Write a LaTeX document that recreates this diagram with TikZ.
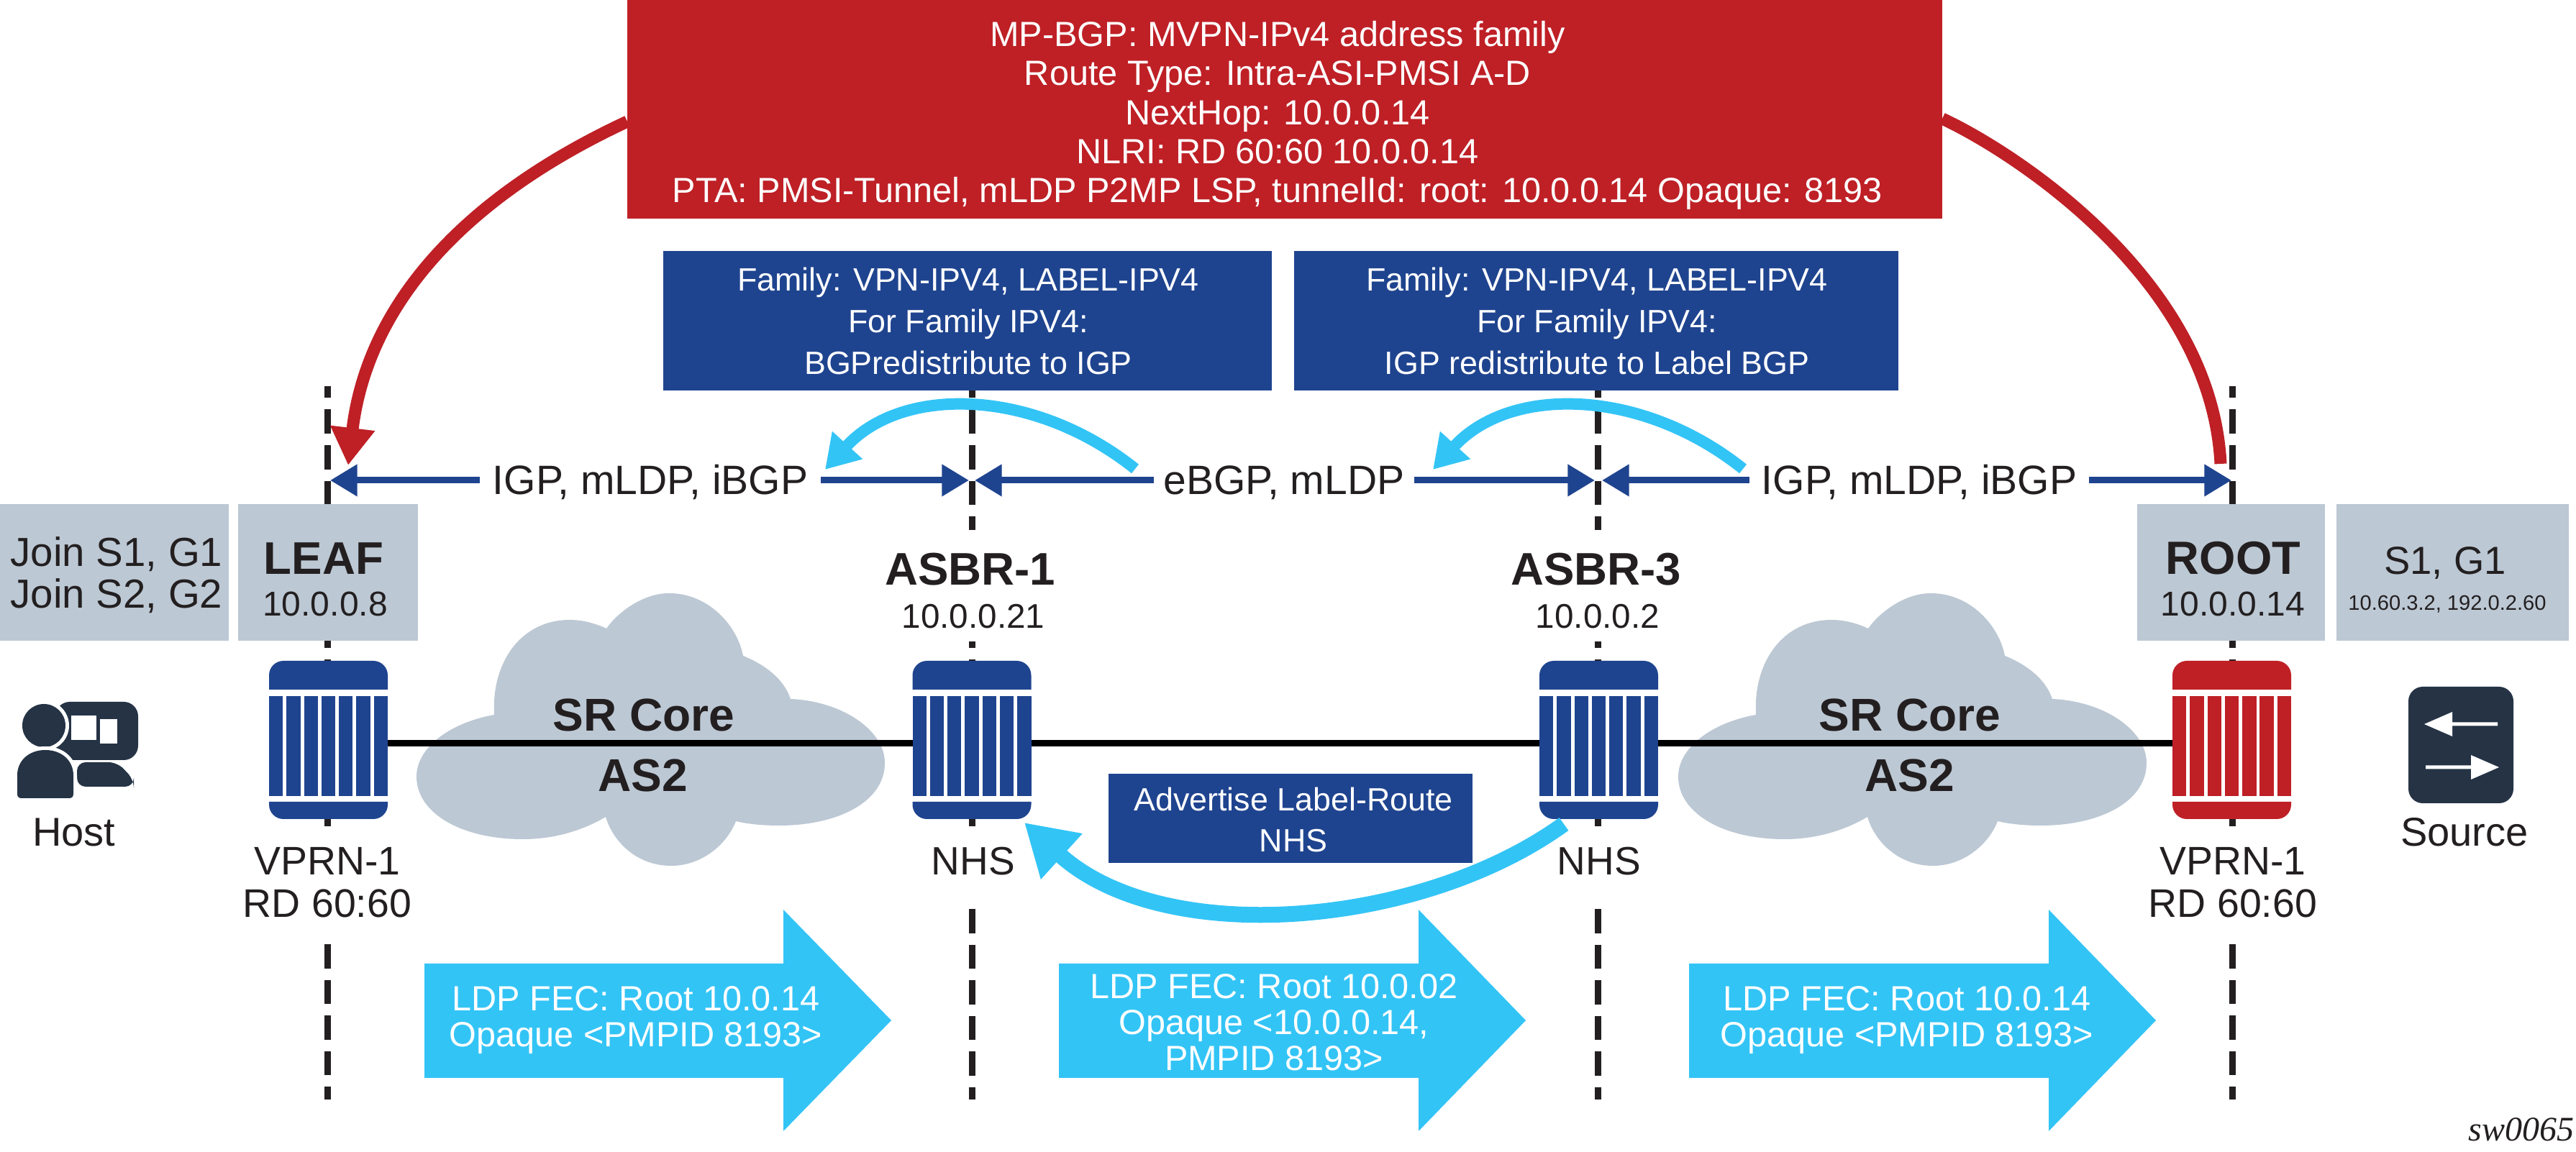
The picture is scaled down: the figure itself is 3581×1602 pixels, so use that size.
\documentclass[tikz,border=0pt]{standalone}
\usepackage{fontspec}
\setmainfont{Liberation Sans}
\newfontfamily\swfont{Liberation Serif}
\usetikzlibrary{arrows.meta}
\definecolor{nred}{HTML}{BE2026}
\definecolor{nblue}{HTML}{1F448F}
\definecolor{ncyan}{HTML}{33C4F6}
\definecolor{ngrey}{HTML}{BCC8D4}
\definecolor{ndark}{HTML}{253345}
\definecolor{ink}{HTML}{231F20}
\newcommand\fs[2]{\fontsize{#1}{#2}\selectfont}
\tikzset{
  x=0.25pt,y=-0.25pt,
  txt/.style={inner sep=0pt,outer sep=0pt,text=ink},
  wtxt/.style={inner sep=0pt,outer sep=0pt,text=white,align=center},
  basetxt/.style={txt,anchor=base},
  dropline/.style={draw=ink,line width=2.25pt,dash pattern=on 8.4pt off 4pt},
  link/.style={draw=black,line width=2.25pt},
  bluelink/.style={draw=nblue,line width=2.25pt,-{Triangle[length=9.4pt,width=10.6pt]}},
  cyanarc/.style={draw=ncyan,line width=4pt,-{Triangle[length=11.5pt,width=13.5pt]}},
  cyanarcb/.style={draw=ncyan,line width=5.5pt,-{Triangle[length=17.5pt,width=20.25pt]}},
  redarc/.style={draw=nred,line width=4.25pt},
  greybox/.style={fill=ngrey,inner sep=0pt,outer sep=0pt},
  filledbox/.style={inner sep=0pt,outer sep=0pt},
  rnode/.style={inner sep=0pt,outer sep=0pt,minimum width=41.25pt,minimum height=52.5pt},
}
\newcommand\dropEnd[1]{%
  \draw[dropline,dash phase=4.28pt] (#1,537) -- (#1,1149);
  \draw[dropline] (#1,1313) -- (#1,1529);}
\newcommand\dropMid[1]{%
  \draw[dropline,dash phase=4.28pt] (#1,537) -- (#1,737);
  \draw[dropline,dash phase=6.1pt] (#1,892) -- (#1,1149);
  \draw[dropline] (#1,1264) -- (#1,1529);}
\newcommand\cloudshape{%
  \fill[ngrey] (687,994) .. controls (683,920) and (725,862) .. (792,862)
   .. controls (812,862) and (830,868) .. (843,874)
   .. controls (860,850) and (895,825) .. (930,825)
   .. controls (985,825) and (1025,870) .. (1033,912)
   .. controls (1065,925) and (1090,945) .. (1099,972)
   .. controls (1170,975) and (1230,1015) .. (1230,1061)
   .. controls (1230,1115) and (1165,1148) .. (1083,1148)
   .. controls (1060,1148) and (1040,1146) .. (1023,1142)
   .. controls (1010,1175) and (975,1204) .. (933,1204)
   .. controls (885,1204) and (852,1170) .. (842,1136)
   .. controls (810,1155) and (770,1167) .. (727,1167)
   .. controls (640,1167) and (579,1130) .. (579,1080)
   .. controls (579,1040) and (625,1005) .. (687,994) -- cycle;}
\newcommand\routerbody[2]{%
  \begin{scope}[shift={(#1,1034)}]
    \fill[white] (-82.5,-115) rectangle (82.5,105);
    \fill[#2] (-82.5,-75) [rounded corners=5pt] -- (-82.5,-115) -- (82.5,-115) [sharp corners] -- (82.5,-75) -- cycle;
    \foreach \i in {0,...,6} \fill[#2] ({-82.5+\i*24.27},-66) rectangle ++(19.4,139);
    \fill[#2] (-82.5,81) -- (82.5,81) [rounded corners=5pt] -- (82.5,105) -- (-82.5,105) [sharp corners] -- cycle;
  \end{scope}}
\newcommand\bigarrow[3]{% left, neck, tip
  \fill[ncyan] (#1,1340) -- (#2,1340) -- (#2,1265) -- (#3,1419) -- (#2,1573) -- (#2,1499) -- (#1,1499) -- cycle;}
\newcommand\hostbody{(24,1104) -- (24,1078) .. controls (24,1058) and (40,1043) .. (63,1043) .. controls (86,1043) and (102,1058) .. (102,1078) -- (102,1104) .. controls (102,1108) and (100,1110) .. (96,1110) -- (30,1110) .. controls (26,1110) and (24,1108) .. (24,1104) -- cycle}
\begin{document}
\begin{tikzpicture}
\path[use as bounding box,fill=white] (0,0) rectangle (3581,1602);

% drop lines
\dropEnd{455}
\dropMid{1351}
\dropMid{2221}
\dropEnd{3103}

% boxes
\node[filledbox,fill=nred,minimum width=457pt,minimum height=76pt] (redbox) at (1786,152) {};
\node[filledbox,fill=nblue,minimum width=211.5pt,minimum height=48.5pt] (bbox1) at (1345,446) {};
\node[filledbox,fill=nblue,minimum width=210pt,minimum height=48.5pt] (bbox2) at (2219,446) {};
\node[filledbox,fill=nblue,minimum width=126.5pt,minimum height=31pt] (advbox) at (1794,1138) {};
\node[greybox,minimum width=79.5pt,minimum height=47.5pt] (joinbox) at (159,796) {};
\node[greybox,minimum width=62.5pt,minimum height=47.5pt] (leafbox) at (456,796) {};
\node[greybox,minimum width=65.25pt,minimum height=47.5pt] (rootbox) at (3101.5,796) {};
\node[greybox,minimum width=80.75pt,minimum height=47.5pt] (srcbox) at (3409.5,796) {};

% clouds
\cloudshape
\begin{scope}[xshift=438.5pt]\cloudshape\end{scope}

% routers and link
\node[rnode] (leaf) at (456.5,1034) {};
\node[rnode] (asbrA) at (1351,1034) {};
\node[rnode] (asbrC) at (2222.5,1034) {};
\node[rnode] (root) at (3102.5,1034) {};
\draw[link] (leaf) -- (asbrA) -- (asbrC) -- (root);
\routerbody{456.5}{nblue}
\routerbody{1351}{nblue}
\routerbody{2222.5}{nblue}
\routerbody{3102.5}{nred}

% big arrows
\bigarrow{590}{1089}{1239}
\bigarrow{1472}{1972}{2121}
\bigarrow{2348}{2848}{2997}

% texts in boxes
\node[wtxt,font=\fs{12.15}{13.55}] (redtxt) at (1776,160.5) {MP-BGP: MVPN-IPv4 address family\\Route Type: Intra-ASI-PMSI A-D\\NextHop: 10.0.0.14\\NLRI: RD 60:60 10.0.0.14\\PTA: PMSI-Tunnel, mLDP P2MP LSP, tunnelId: root: 10.0.0.14 Opaque: 8193};
\node[wtxt,font=\fs{11.2}{14.5}] (btxt1) at (1346,447) {Family: VPN-IPV4, LABEL-IPV4\\For Family IPV4:\\BGPredistribute to IGP};
\node[wtxt,font=\fs{11.2}{14.5}] (btxt2) at (2220,447) {Family: VPN-IPV4, LABEL-IPV4\\For Family IPV4:\\IGP redistribute to Label BGP};
\node[wtxt,font=\fs{11.2}{14.1}] (advtxt) at (1798,1140) {Advertise Label-Route\\NHS};
\node[wtxt,font=\fs{12.15}{12.5}] (fec1) at (884,1419) {LDP FEC: Root 10.0.14\\Opaque <PMPID 8193>};
\node[wtxt,font=\fs{12.15}{12.5}] (fec2) at (1771,1421.5) {LDP FEC: Root 10.0.02\\Opaque <10.0.0.14,\\PMPID 8193>};
\node[wtxt,font=\fs{12.15}{12.5}] (fec3) at (2651,1419) {LDP FEC: Root 10.0.14\\Opaque <PMPID 8193>};

% grey box labels
\node[txt,align=center,font=\fs{14.1}{14.5}] (join) at (162,799.5) {Join S1, G1\\Join S2, G2};
\node[basetxt,font=\bfseries\fs{15.9}{17}] (leafname) at (450,799) {LEAF};
\node[basetxt,font=\fs{12}{14}] (leafip) at (452,857) {10.0.0.8};
\node[basetxt,font=\bfseries\fs{16.2}{17}] (rootname) at (3104.5,799) {ROOT};
\node[basetxt,font=\fs{12}{14}] (rootip) at (3104,857) {10.0.0.14};
\node[basetxt,font=\fs{13.6}{14}] (srcname) at (3399,799) {S1, G1};
\node[basetxt,font=\fs{7.28}{9}] (srcip) at (3402,849) {10.60.3.2, 192.0.2.60};

% ASBR labels
\node[basetxt,font=\bfseries\fs{15.9}{17}] (asbrAname) at (1349,814) {ASBR-1};
\node[basetxt,font=\fs{11.9}{14}] (asbrAip) at (1353,874) {10.0.0.21};
\node[basetxt,font=\bfseries\fs{15.9}{17}] (asbrCname) at (2219,814) {ASBR-3};
\node[basetxt,font=\fs{11.9}{14}] (asbrCip) at (2221,874) {10.0.0.2};
\node[basetxt,font=\fs{13.75}{14}] (nhsA) at (1353,1217) {NHS};
\node[basetxt,font=\fs{13.75}{14}] (nhsC) at (2223,1217) {NHS};
\node[txt,align=center,font=\fs{13.85}{14.75}] (vprnL) at (455,1227) {VPRN-1\\RD 60:60};
\node[txt,align=center,font=\fs{13.85}{14.75}] (vprnR) at (3104,1227) {VPRN-1\\RD 60:60};

% cloud labels
\node[basetxt,font=\bfseries\fs{16}{17}] (sr1) at (895,1017) {SR Core};
\node[basetxt,font=\bfseries\fs{16}{17}] (as1) at (894,1101) {AS2};
\node[basetxt,font=\bfseries\fs{16}{17}] (sr2) at (2655,1017) {SR Core};
\node[basetxt,font=\bfseries\fs{16}{17}] (as2) at (2655,1101) {AS2};

% host icon
\fill[ndark,rounded corners=5pt] (77,976) rectangle (192,1057);
\fill[white] (99,995) rectangle (134,1029);
\fill[white] (139,1000) rectangle (163,1034);
\fill[white] (61,1009) circle[radius=35];
\fill[ndark] (61,1009) circle[radius=30];
\fill[ndark,rounded corners=3pt] (107,1094) -- (107,1060) -- (163,1060) -- (186,1084) -- (186,1094) -- cycle;
\draw[white,line width=2.5pt] \hostbody;
\fill[ndark] \hostbody;
\node[basetxt,font=\fs{14}{15}] (hostlbl) at (103,1177) {Host};

% source icon
\fill[ndark,rounded corners=5pt] (3348,955) rectangle (3494,1117);
\fill[white] (3370,1007) -- (3409,990) -- (3409,1004.5) -- (3472,1004.5) -- (3472,1009.5) -- (3409,1009.5) -- (3409,1024) -- cycle;
\fill[white] (3474,1067) -- (3435,1050) -- (3435,1064.5) -- (3372,1064.5) -- (3372,1069.5) -- (3435,1069.5) -- (3435,1084) -- cycle;
\node[basetxt,font=\fs{14}{15}] (srclbl) at (3426,1177) {Source};

% protocol labels and arrows
\coordinate (tL) at (459,668);
\coordinate (tAl) at (1347,668);
\coordinate (tAr) at (1355,668);
\coordinate (tCl) at (2217,668);
\coordinate (tCr) at (2227,668);
\coordinate (tR) at (3102,668);
\node[basetxt,font=\fs{14.25}{15},inner xsep=4.5pt] (igpA) at (904,688) {IGP, mLDP, iBGP};
\node[basetxt,font=\fs{14.25}{15},inner xsep=3.5pt] (ebgp) at (1785,688) {eBGP, mLDP};
\node[basetxt,font=\fs{14.25}{15},inner xsep=4.25pt] (igpB) at (2668,688) {IGP, mLDP, iBGP};
\draw[bluelink] (igpA.west |- tL) -- (tL);
\draw[bluelink] (igpA.east |- tL) -- (tAl);
\draw[bluelink] (ebgp.west |- tL) -- (tAr);
\draw[bluelink] (ebgp.east |- tL) -- (tCl);
\draw[bluelink] (igpB.west |- tL) -- (tCr);
\draw[bluelink] (igpB.east |- tL) -- (tR);

% cyan arcs
\coordinate (c1s) at (1578,652); \coordinate (c1e) at (1147,653);
\coordinate (c2s) at (2423,652); \coordinate (c2e) at (1992,653);
\coordinate (c3s) at (2174,1146); \coordinate (c3e) at (1424,1144);
\draw[cyanarc] (c1s) .. controls (1438,540) and (1255,535) .. (c1e);
\draw[cyanarc] (c2s) .. controls (2283,540) and (2100,535) .. (c2e);
\draw[cyanarcb] (c3s) .. controls (1975,1290) and (1618,1320) .. (c3e);

% red arcs
\coordinate (r1e) at (484,647);
\coordinate (r2e) at (3087,645);
\draw[redarc,-{Triangle[length=13pt,width=14.75pt]}] ([yshift=-4.25pt]redbox.west) .. controls (636,279) and (510,430) .. (r1e);
\draw[redarc] ([yshift=-3.25pt]redbox.east) .. controls (2797,210) and (3074,387) .. (r2e);

% figure id
\node[inner sep=0pt,anchor=base east,text=ink,font=\swfont\itshape\fs{12}{14}] (figid) at (3579,1587) {sw0065};
\end{tikzpicture}
\end{document}
